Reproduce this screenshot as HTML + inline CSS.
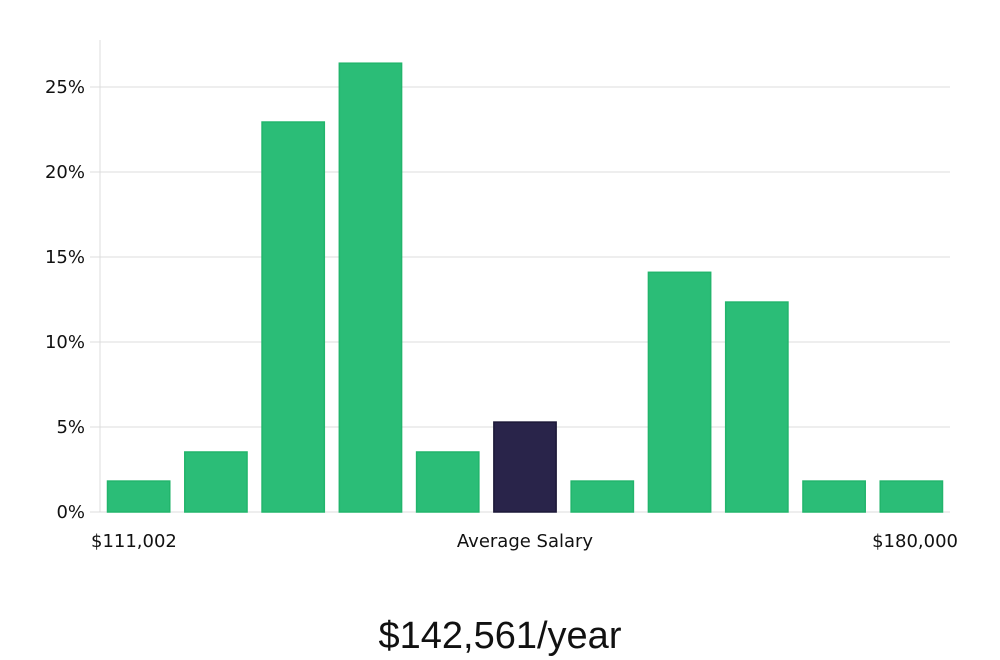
<!DOCTYPE html>
<html><head><meta charset="utf-8"><style>
html,body{margin:0;padding:0;background:#fff;width:1000px;height:660px;overflow:hidden}
svg text{font-family:"DejaVu Sans","Liberation Sans",sans-serif}
</style></head><body>
<svg id="chart" width="1000" height="660" xmlns="http://www.w3.org/2000/svg">
<g id="grid"></g><g id="bars"></g><g id="axes"></g>
<text x="91" y="547" font-size="18" fill="#111">$111,002</text>
<text x="525" y="547" font-size="18" fill="#111" text-anchor="middle">Average Salary</text>
<text x="958" y="547" font-size="18" fill="#111" text-anchor="end">$180,000</text>
<text x="500" y="648" font-size="38" fill="#111" text-anchor="middle" style="font-family:'Liberation Sans','DejaVu Sans',sans-serif">$142,561/year</text>
</svg>
<script>
const values = [1.82, 3.53, 22.94, 26.4, 3.53, 5.29, 1.82, 14.1, 12.35, 1.82, 1.82];
const highlight = [false, false, false, false, false, true, false, false, false, false, false];
const ticks = [0, 5, 10, 15, 20, 25];
const tickLabels = ["0%", "5%", "10%", "15%", "20%", "25%"];
const NS = "http://www.w3.org/2000/svg";
const x0 = 100, x1 = 950, y0 = 512, pxPer = 17;
const y = v => y0 - v * pxPer;
const step = (x1 - x0) / values.length;
const grid = document.getElementById('grid'), bars = document.getElementById('bars'), axes = document.getElementById('axes');
ticks.forEach((t, i) => {
  const l = document.createElementNS(NS, 'line');
  
  
  l.setAttribute('x1', 90); l.setAttribute('x2', x1);
  l.setAttribute('y1', y(t)); l.setAttribute('y2', y(t));
  l.setAttribute('stroke', '#dcdcdc'); l.setAttribute('stroke-width', 1);
  grid.appendChild(l);
  const tx = document.createElementNS(NS, 'text');
  
  
  tx.setAttribute('x', 85); tx.setAttribute('y', y(t) + 6);
  tx.setAttribute('text-anchor', 'end'); tx.setAttribute('font-size', '18'); tx.setAttribute('fill', '#111');
  tx.textContent = tickLabels[i];
  axes.appendChild(tx);
});
const ax = document.createElementNS(NS, 'line');


ax.setAttribute('x1', x0); ax.setAttribute('x2', x0); ax.setAttribute('y1', 40); ax.setAttribute('y2', y0);
ax.setAttribute('stroke', '#dcdcdc');
axes.appendChild(ax);
values.forEach((v, i) => {
  const r = document.createElementNS(NS, 'rect');
  
  
  r.setAttribute('x', x0 + i * step + 7.5);
  r.setAttribute('width', step - 15);
  r.setAttribute('y', y(v));
  r.setAttribute('height', y0 - y(v));
  r.setAttribute('fill', highlight[i] ? '#29244a' : '#2bbd77');
  r.setAttribute('stroke', highlight[i] ? '#1c1838' : '#22b56c');
  r.setAttribute('stroke-width', 1.5);
  bars.appendChild(r);
});
</script>
</body></html>
